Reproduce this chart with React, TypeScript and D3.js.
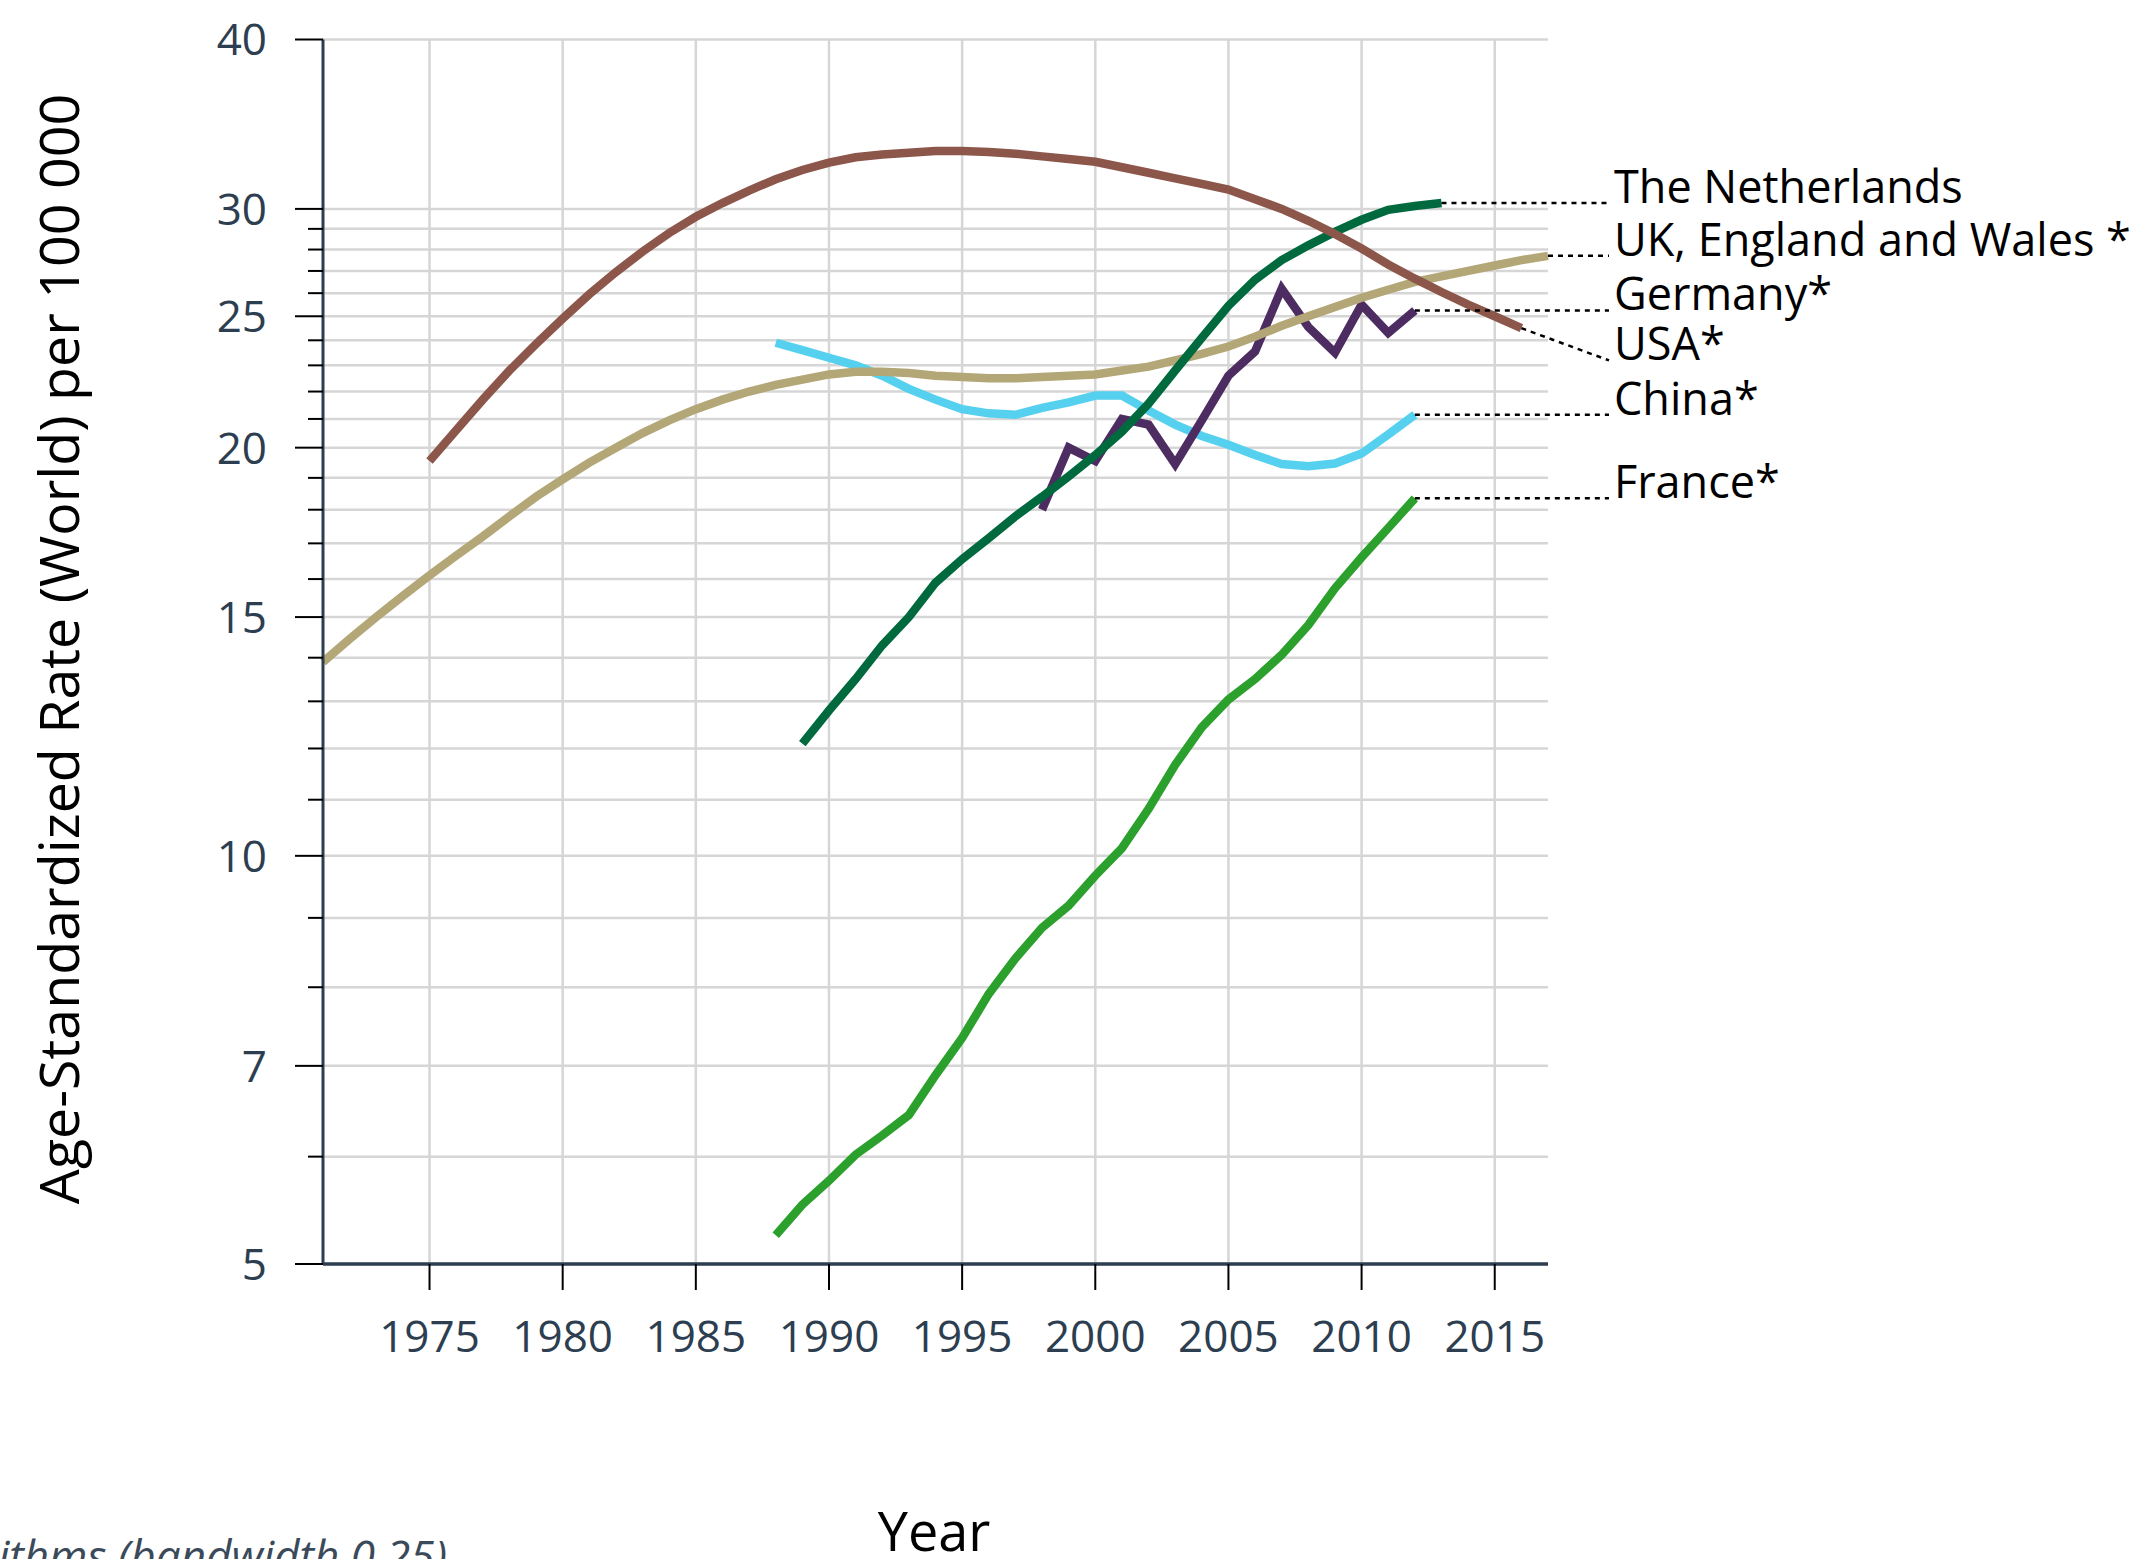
import React from "react";
import * as d3 from "d3";

// Age-standardized melanoma incidence (World standard) per 100 000, by year
const years5 = [1975, 1980, 1985, 1990, 1995, 2000, 2005, 2010, 2015];
const yTickValues = [5, 6, 7, 8, 9, 10, 11, 12, 13, 14, 15, 16, 17, 18, 19, 20, 21, 22, 23, 24, 25, 26, 27, 28, 29, 30, 40];
const yLabelValues = [5, 7, 10, 15, 20, 25, 30, 40];

const usaStart = 1975;
const usaRates = [
  19.55, 20.6, 21.7, 22.8, 23.85, 24.9, 25.95, 26.95, 27.9, 28.8,
  29.6, 30.3, 30.95, 31.55, 32.05, 32.45, 32.75, 32.9, 33.0, 33.1,
  33.1, 33.05, 32.95, 32.8, 32.65, 32.5, 32.2, 31.9, 31.6, 31.3,
  31.0, 30.5, 30.0, 29.4, 28.75, 28.05, 27.3, 26.65, 26.05, 25.5,
  25.0, 24.5,
];

const ukStart = 1971;
const ukRates = [
  13.9, 14.45, 15.0, 15.55, 16.1, 16.65, 17.2, 17.8, 18.4, 18.95,
  19.5, 20.0, 20.5, 20.95, 21.35, 21.7, 22.0, 22.25, 22.45, 22.65,
  22.75, 22.75, 22.7, 22.6, 22.55, 22.5, 22.5, 22.55, 22.6, 22.65,
  22.8, 22.95, 23.2, 23.45, 23.75, 24.15, 24.6, 25.0, 25.4, 25.8,
  26.15, 26.5, 26.75, 27.0, 27.25, 27.5, 27.7,
];

const netherlandsStart = 1989;
const netherlandsRates = [
  12.1, 12.8, 13.5, 14.3, 15.0, 15.9, 16.55, 17.15, 17.8, 18.4,
  19.05, 19.75, 20.55, 21.55, 22.8, 24.1, 25.45, 26.6, 27.5, 28.2,
  28.85, 29.45, 29.95, 30.15, 30.3,
];

const germanyStart = 1998;
const germanyRates = [
  18.0, 20.0, 19.55, 21.0, 20.8, 19.45, 20.95, 22.6, 23.55, 26.2,
  24.55, 23.5, 25.5, 24.3, 25.25,
];

const chinaStart = 1988;
const chinaRates = [
  23.9, 23.6, 23.3, 23.0, 22.6, 22.1, 21.7, 21.35, 21.2, 21.15,
  21.4, 21.6, 21.85, 21.85, 21.3, 20.8, 20.4, 20.1, 19.75, 19.45,
  19.38, 19.47, 19.8, 20.45, 21.15,
];

const franceStart = 1988;
const franceRates = [
  5.25, 5.53, 5.76, 6.02, 6.22, 6.44, 6.89, 7.34, 7.91, 8.4,
  8.85, 9.19, 9.67, 10.13, 10.83, 11.67, 12.44, 13.04, 13.5, 14.07,
  14.8, 15.75, 16.6, 17.45, 18.35,
];

const seriesNames = ["China*", "France*", "Germany*", "UK, England and Wales *", "The Netherlands", "USA*"];
const seriesColors = ["#55d0ee", "#2ca02c", "#4d2c62", "#b3a777", "#00693e", "#8c564b"];
const seriesStarts = [chinaStart, franceStart, germanyStart, ukStart, netherlandsStart, usaStart];
const seriesRates = [chinaRates, franceRates, germanyRates, ukRates, netherlandsRates, usaRates];

const W = 2137;
const H = 1559;
const left = 323;
const right = 1548;
const top = 39.5;
const bottom = 1264;
const labelX = 1614;
const axisColor = "#2c3e50";
const font = "'Open Sans', 'Noto Sans', sans-serif";

export default function App() {
  const x = d3.scaleLinear().domain([1971, 2017]).range([left, right]);
  const y = d3.scaleLog().domain([5, 40]).range([bottom, top]);

  const series = seriesNames.map((name, i) => ({
    name,
    color: seriesColors[i],
    points: seriesRates[i].map((v, j) => [seriesStarts[i] + j, v] as [number, number]),
  }));

  const line = d3
    .line<[number, number]>()
    .x((d) => x(d[0]))
    .y((d) => y(d[1]))
    .curve(d3.curveLinear);

  // label placement: start at each series' last value, push apart to avoid overlap
  const labels = series
    .map((s) => {
      const last = s.points[s.points.length - 1];
      return { name: s.name, ex: x(last[0]), ey: y(last[1]), ly: y(last[1]) };
    })
    .sort((a, b) => a.ey - b.ey);
  const minGap = 50;
  for (let i = 1; i < labels.length; i++) {
    if (labels[i].ly - labels[i - 1].ly < minGap) labels[i].ly = labels[i - 1].ly + minGap;
  }

  return (
    <svg
      width={W}
      height={H}
      viewBox={`0 0 ${W} ${H}`}
      style={{ position: "absolute", left: 0, top: 0, background: "#fff" }}
    >
      <rect x={0} y={0} width={W} height={H} fill="#fff" />
      {/* grid */}
      <g stroke="#d6d6d6" strokeWidth={2.5}>
        {yTickValues.map((v) => (
          <line key={`hy${v}`} x1={left} x2={right} y1={y(v)} y2={y(v)} />
        ))}
        {years5.map((yr) => (
          <line key={`vx${yr}`} x1={x(yr)} x2={x(yr)} y1={top} y2={bottom} />
        ))}
      </g>

      {/* series */}
      {series.map((s) => (
        <path
          key={s.name}
          d={line(s.points) || ""}
          fill="none"
          stroke={s.color}
          strokeWidth={8.5}
          strokeLinejoin="miter"
          strokeLinecap="butt"
        />
      ))}

      {/* leaders and labels */}
      {labels.map((l) => (
        <g key={l.name}>
          <line
            x1={l.ex}
            y1={l.ey}
            x2={labelX - 5}
            y2={l.ly}
            stroke="#000"
            strokeWidth={2.5}
            strokeDasharray="5,5"
          />
          <text x={labelX} y={l.ly} fontFamily={font} fontSize={45} fill="#000">
            {l.name}
          </text>
        </g>
      ))}

      {/* y axis */}
      <line x1={left} x2={left} y1={top} y2={bottom} stroke={axisColor} strokeWidth={3} />
      {yTickValues.map((v) => {
        const major = yLabelValues.includes(v);
        return (
          <line
            key={`yt${v}`}
            x1={major ? left - 28 : left - 15}
            x2={left}
            y1={y(v)}
            y2={y(v)}
            stroke="#000"
            strokeWidth={2}
          />
        );
      })}
      {yLabelValues.map((v) => (
        <text
          key={`yl${v}`}
          x={267}
          y={y(v)}
          dy="0.36em"
          textAnchor="end"
          fontFamily={font}
          fontSize={44}
          fill={axisColor}
        >
          {v}
        </text>
      ))}

      {/* x axis */}
      <line x1={left} x2={right} y1={bottom} y2={bottom} stroke={axisColor} strokeWidth={3.5} />
      {years5.map((yr) => (
        <g key={`xt${yr}`}>
          <line x1={x(yr)} x2={x(yr)} y1={bottom} y2={bottom + 26} stroke="#000" strokeWidth={2} />
          <text
            x={x(yr)}
            y={1352}
            textAnchor="middle"
            fontFamily={font}
            fontSize={44}
            fill={axisColor}
          >
            {yr}
          </text>
        </g>
      ))}

      {/* axis titles */}
      <text
        transform={`translate(79, 649) rotate(-90)`}
        textAnchor="middle"
        fontFamily={font}
        fontSize={55.5}
        fill="#000"
      >
        Age-Standardized Rate (World) per 100 000
      </text>
      <text x={934} y={1551} textAnchor="middle" fontFamily={font} fontSize={54} fill="#000">
        Year
      </text>

      {/* note */}
      <text
        x={447}
        y={1572}
        textAnchor="end"
        fontFamily={font}
        fontStyle="italic"
        fontSize={44}
        fill="#3a4a5a"
      >
        Smoothing algorithms (bandwidth 0.25)
      </text>
    </svg>
  );
}
